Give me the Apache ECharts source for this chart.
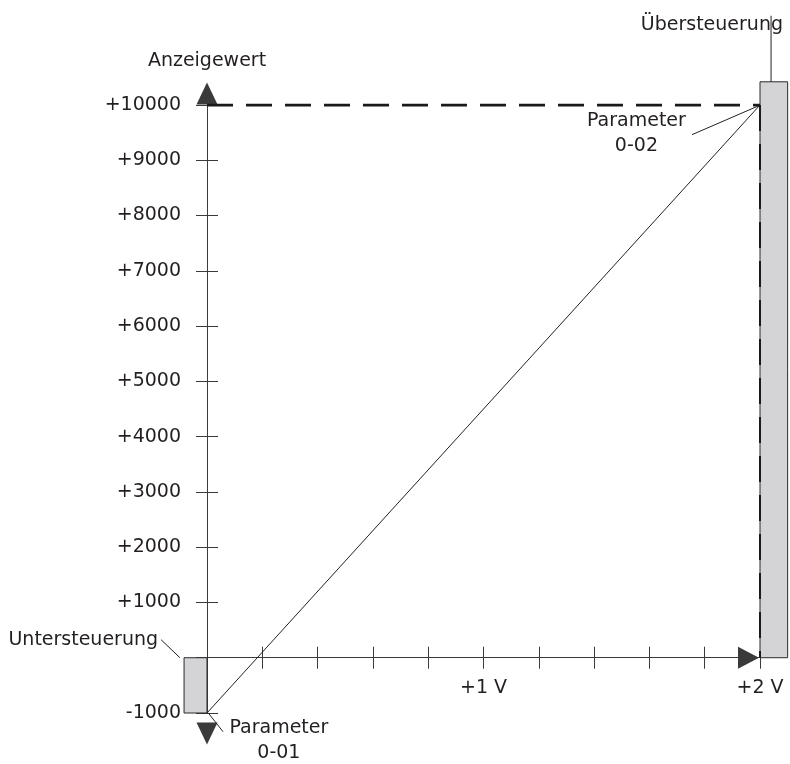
<!DOCTYPE html>
<html>
<head>
<meta charset="utf-8">
<script src="https://cdn.jsdelivr.net/npm/echarts@6/dist/echarts.min.js"></script>
<style>
html,body{margin:0;padding:0;background:#ffffff;}
#chart{width:790px;height:764px;}
</style>
</head>
<body>
<div id="chart"></div>
<script>
// ---- data ----
const voltMin = 0, voltMax = 2, voltStep = 0.2;
const valueMin = -1000, valueMax = 10000, valueStep = 1000;
const voltLabels = { 1: '+1 V', 2: '+2 V' };
const transferLine = [[0, -1000], [2, 10000]];          // Parameter 0-01 -> 0-02
const fullScaleLine = [[0, 10000], [2, 10000]];         // dashed level at +10000
const fullScaleDrop = [[2, 10000], [2, 0]];             // dashed drop at +2 V
const axisExtension = [[0, -1000], [0, -1200]];         // stub of axis down to arrow
const underflowBox = [[-0.083, -1000, 0, 0]];           // x0, y0, x1, y1
const overflowBox = [[2, 0, 2.1, 10420]];
const annotationTexts = ['Untersteuerung', 'Übersteuerung', 'Parameter\n0-02', 'Parameter\n0-01'];
const annotationPoints = [[-0.177, 326], [1.826, 11440], [1.553, 9480], [0.260, -1500]];
const annotationAlign = ['right', 'center', 'center', 'center'];
const leaderLines = [
  [-0.166, 326, -0.098, 0],
  [2.04, 11615, 2.04, 10420],
  [1.754, 9463, 1.996, 9987],
  [0.058, -1339, 0.004, -995]
];

// ---- styles ----
const FONT = 'DejaVu Sans';
const FS = 19;
const INK = '#231f20';
const AXIS = '#3a3a3a';

const chart = echarts.init(document.getElementById('chart'), null, { renderer: 'canvas' });

function yFmt(v) {
  if (v > 0) return '+' + v;
  if (v < 0) return String(v);
  return '';
}
function xFmt(v) {
  const r = Math.round(v);
  if (Math.abs(v - r) < 1e-9 && voltLabels[r]) return voltLabels[r];
  return '';
}

const option = {
  animation: false,
  backgroundColor: '#ffffff',
  grid: { left: 207, right: 30, top: 105, bottom: 51, outerBoundsMode: 'none' },
  xAxis: [
    {
      type: 'value', min: voltMin, max: voltMax, interval: voltStep, position: 'bottom',
      axisLine: {
        onZero: true, onZeroAxisIndex: 0,
        lineStyle: { color: AXIS, width: 1 },
        symbol: ['none', 'triangle'], symbolSize: [22, 21], symbolOffset: [0, -11.5]
      },
      axisTick: { show: true, inside: false, length: 11, lineStyle: { color: AXIS, width: 1 } },
      axisLabel: { formatter: xFmt, margin: -34, color: INK, fontSize: FS, fontFamily: FONT },
      splitLine: { show: false }
    },
    {
      type: 'value', min: voltMin, max: voltMax, interval: voltStep, position: 'top',
      axisLine: { onZero: true, onZeroAxisIndex: 1, lineStyle: { color: AXIS, width: 1 } },
      axisTick: { show: true, inside: false, length: 11, lineStyle: { color: AXIS, width: 1 } },
      axisLabel: { show: false },
      splitLine: { show: false }
    }
  ],
  yAxis: [
    {
      type: 'value', min: valueMin, max: valueMax, interval: valueStep, position: 'left',
      name: 'Anzeigewert', nameLocation: 'end', nameGap: 34,
      nameTextStyle: { color: INK, fontSize: FS, fontFamily: FONT },
      axisLine: {
        onZero: false,
        lineStyle: { color: AXIS, width: 1 },
        symbol: ['triangle', 'triangle'], symbolSize: [21, 22], symbolOffset: [-20.5, 11.5]
      },
      axisTick: { show: false },
      axisLabel: { formatter: yFmt, margin: 26, color: INK, fontSize: FS, fontFamily: FONT },
      splitLine: { show: false }
    },
    {
      type: 'value', min: valueMin, max: valueMax, interval: valueStep, position: 'left',
      offset: -11,
      axisLine: { show: false, onZero: false },
      axisTick: { show: true, inside: false, length: 22, lineStyle: { color: AXIS, width: 1 } },
      axisLabel: { show: false },
      splitLine: { show: false }
    }
  ],
  series: [
    {
      type: 'custom', name: 'boxes', clip: false, z: 3,
      data: underflowBox.concat(overflowBox),
      encode: { x: [0, 2], y: [1, 3] },
      renderItem: function (params, api) {
        const p0 = api.coord([api.value(0), api.value(1)]);
        const p1 = api.coord([api.value(2), api.value(3)]);
        return {
          type: 'rect',
          shape: {
            x: Math.min(p0[0], p1[0]), y: Math.min(p0[1], p1[1]),
            width: Math.abs(p1[0] - p0[0]), height: Math.abs(p1[1] - p0[1])
          },
          style: { fill: '#d4d4d6', stroke: '#2a2a2a', lineWidth: 1 }
        };
      }
    },
    {
      type: 'line', data: transferLine, showSymbol: false, z: 4, silent: true,
      lineStyle: { color: '#222', width: 1 }
    },
    {
      type: 'line', data: fullScaleLine, showSymbol: false, z: 4, silent: true,
      lineStyle: { color: '#1a1a1a', width: 3, type: [26, 13] }
    },
    {
      type: 'line', data: fullScaleDrop, showSymbol: false, z: 4, silent: true,
      lineStyle: { color: '#1a1a1a', width: 2, type: [26, 13] }
    },
    {
      type: 'line', data: axisExtension, showSymbol: false, z: 1, silent: true,
      lineStyle: { color: AXIS, width: 1 }
    },
    {
      type: 'custom', name: 'leaders', clip: false, z: 4,
      data: leaderLines,
      encode: { x: [0, 2], y: [1, 3] },
      renderItem: function (params, api) {
        const p0 = api.coord([api.value(0), api.value(1)]);
        const p1 = api.coord([api.value(2), api.value(3)]);
        return {
          type: 'line',
          shape: { x1: p0[0], y1: p0[1], x2: p1[0], y2: p1[1] },
          style: { stroke: '#222', lineWidth: 1 }
        };
      }
    },
    {
      type: 'custom', name: 'notes', clip: false, z: 5,
      data: annotationPoints,
      encode: { x: 0, y: 1 },
      renderItem: function (params, api) {
        const p = api.coord([api.value(0), api.value(1)]);
        const i = params.dataIndex;
        return {
          type: 'text',
          x: p[0], y: p[1],
          style: {
            text: annotationTexts[i],
            fill: INK,
            font: FS + 'px "' + FONT + '"',
            align: annotationAlign[i],
            verticalAlign: 'middle',
            lineHeight: 25
          }
        };
      }
    }
  ]
};
chart.setOption(option);
</script>
</body>
</html>
